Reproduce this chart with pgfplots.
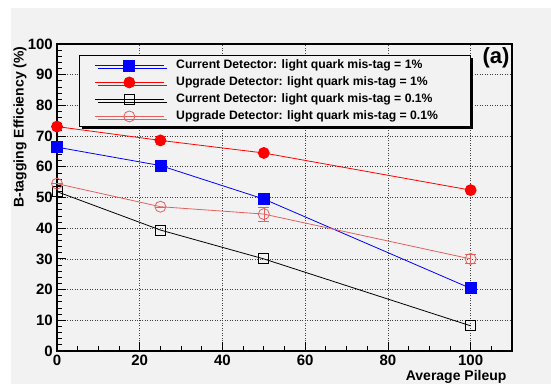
\documentclass[border=0pt]{standalone}
\usepackage{fontspec}
\setmainfont{Liberation Sans}
\usepackage{pgfplots}
\pgfplotsset{compat=1.18}
\usetikzlibrary{shadows}
\definecolor{bg}{RGB}{242,242,242}
\definecolor{pinkr}{RGB}{230,95,95}
\begin{document}
\begin{tikzpicture}
\useasboundingbox (0,0) rectangle (551bp,384bp);
\fill[white] (0,0) rectangle (551bp,384bp);
\fill[bg] (11bp,0) rectangle (551bp,376bp);
\begin{axis}[
 at={(57bp,33bp)}, anchor=south west,
 scale only axis, width=455bp, height=307bp,
 xmin=0, xmax=110, ymin=0, ymax=100,
 xtick={0,20,...,100}, minor xtick={5,10,...,105},
 ytick={0,10,...,100}, minor ytick={0,2,...,100},
 tick align=inside, xtick pos=bottom, ytick pos=left,
 major tick length=9bp, minor tick length=5bp,
 grid=major,
 major grid style={black!75, line width=0.6bp, dash pattern=on 1bp off 1.5bp},
 axis line style={line width=1.2bp},
 every tick/.style={black, line width=0.8bp},
 tick label style={font=\bfseries\fontsize{15bp}{15bp}\selectfont},
 /pgf/number format/assume math mode=true,
 xticklabel style={anchor=north, inner sep=0pt, yshift=-4bp},
 yticklabel style={anchor=east, inner sep=0pt, xshift=-4bp},
 axis background/.style={fill=bg},
 clip=false,
 legend style={at={(0.0484,0.964)}, anchor=north west, draw=black, line width=0.8bp, fill=bg,
   font=\bfseries\fontsize{12.2bp}{14bp}\selectfont, row sep=1bp, column sep=10bp,
   inner xsep=15bp, inner ysep=2bp,
   nodes={inner sep=2bp, text height=9bp, text depth=3bp},
   general shadow={shadow xshift=3bp, shadow yshift=-3bp, fill=black}},
 legend cell align=left,
 legend image code/.code={\draw[mark repeat=2,mark phase=2,#1] plot coordinates {(0bp,0bp)(34.5bp,0bp)(69bp,0bp)};},
]
\addplot[blue, line width=0.8bp, mark=square*, mark size=5.5bp, mark options={solid, fill=blue}]
  coordinates {(0,66.4)(25,60.4)(50,49.5)(100,20.4)};
\addlegendentry{\makebox[277bp][l]{Current Detector: light quark mis-tag = 1\%}}
\addplot[red, line width=0.8bp, mark=*, mark size=5.5bp, mark options={solid, fill=red}]
  coordinates {(0,73.1)(25,68.6)(50,64.5)(100,52.4)};
\addlegendentry{\makebox[277bp][l]{Upgrade Detector: light quark mis-tag = 1\%}}
\addplot[black, line width=0.8bp, mark=square, mark size=5bp, mark options={solid}]
  coordinates {(0,51.9)(25,39.4)(50,30.0)(100,8.2)};
\addlegendentry{\makebox[277bp][l]{Current Detector: light quark mis-tag = 0.1\%}}
\addplot[pinkr, line width=0.8bp, mark=o, mark size=5.5bp, mark options={solid},
  error bars/.cd, y dir=both, y explicit]
  coordinates {(0,54.5) +- (0,0) (25,47.0) +- (0,0) (50,44.6) +- (0,2.2) (100,30.0) +- (0,1.5)};
\addlegendentry{\makebox[277bp][l]{Upgrade Detector: light quark mis-tag = 0.1\%}}
\end{axis}
\node[rotate=90, anchor=east, font=\bfseries\fontsize{14bp}{14bp}\selectfont] at (20bp,341bp) {B-tagging Efficiency (\%)};
\node[anchor=east, font=\bfseries\fontsize{14bp}{14bp}\selectfont] at (510bp,7bp) {Average Pileup};
\node[font=\bfseries\fontsize{22bp}{22bp}\selectfont] at (496bp,326bp) {(a)};
\end{tikzpicture}
\end{document}
